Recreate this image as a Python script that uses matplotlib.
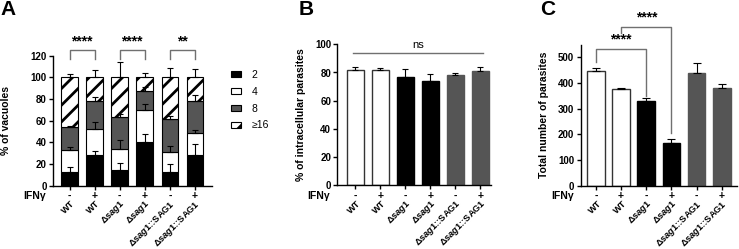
import matplotlib
matplotlib.use("Agg")
import matplotlib.pyplot as plt
import numpy as np

plt.rcParams['font.family'] = ['Liberation Sans', 'DejaVu Sans']
plt.rcParams['font.weight'] = 'bold'
plt.rcParams['axes.labelweight'] = 'bold'
plt.rcParams['mathtext.fontset'] = 'custom'
plt.rcParams['mathtext.it'] = 'Liberation Sans:italic:bold'
plt.rcParams['mathtext.rm'] = 'Liberation Sans:bold'
plt.rcParams['mathtext.bf'] = 'Liberation Sans:bold'
plt.rcParams['hatch.linewidth'] = 2.0

# ---------------- data ----------------
categories = ['WT', 'WT', r'Δ$\mathit{sag1}$', r'Δ$\mathit{sag1}$',
              r'Δ$\mathit{sag1}$::SAG1', r'Δ$\mathit{sag1}$::SAG1']
ifng = ['-', '+', '-', '+', '-', '+']

# Panel A: % of vacuoles by parasite number per vacuole
legend_labels = ['2', '4', '8', '≥16']
pct2 = [13, 28, 14.5, 40.5, 13, 28]
pct4 = [19.5, 24.5, 19.5, 29, 18, 21]
pct8 = [22, 26, 29.5, 18, 30.5, 29]
pct16 = [45.5, 21.5, 36.5, 12.5, 38.5, 22]
err2 = [4.6, 4.3, 6.1, 7.1, 7.4, 10.2]
err4 = [3.1, 5.9, 8.6, 5.9, 5.5, 2.2]
err8 = [1.0, 3.5, 2.5, 3.5, 2.5, 6.0]
err16 = [3.2, 6.9, 13.9, 3.8, 8.7, 7.8]
sig_A = [(0, 1, '****'), (2, 3, '****'), (4, 5, '**')]

# Panel B: % intracellular parasites
intra = [81.6, 82.0, 77.0, 73.8, 78.0, 81.3]
intra_err = [2.1, 1.0, 5.5, 4.9, 1.4, 2.8]

# Panel C: total number of parasites
total = [446, 375, 329, 165, 439, 380]
total_err = [11, 6, 11, 15, 39, 18]

W, H = 739, 249
fig = plt.figure(figsize=(W / 100, H / 100), dpi=100)

def fx(px):
    return px / W

def fy(px):
    return 1 - px / H

GRAY = '#555555'
LINEC = '#707070'

def style_axis(ax):
    for s in ['top', 'right']:
        ax.spines[s].set_visible(False)
    for s in ['left', 'bottom']:
        ax.spines[s].set_linewidth(1.0)
    ax.tick_params(axis='both', width=1.0, length=3, labelsize=7, pad=1.5)
    ax.set_xticks(range(6))
    ax.set_xticklabels([])
    for lab in ax.get_yticklabels():
        lab.set_fontweight('bold')
    # IFN row and category labels
    for i in range(6):
        ax.annotate(ifng[i], xy=(i, 0), xycoords=('data', 'axes fraction'),
                    xytext=(0, -7.5), textcoords='offset points',
                    ha='center', va='center', fontsize=7.5, fontweight='bold')
        ax.annotate(categories[i], xy=(i, 0), xycoords=('data', 'axes fraction'),
                    xytext=(3, -12), textcoords='offset points',
                    ha='right', va='center', rotation=45, rotation_mode='anchor',
                    fontsize=6.7, fontweight='bold')
    ax.annotate('IFNγ', xy=(0, 0), xycoords='axes fraction',
                xytext=(-5, -7.5), textcoords='offset points',
                ha='right', va='center', fontsize=7.5, fontweight='bold')

x = np.arange(6)

# ---------------- Panel A ----------------
axA = fig.add_axes([fx(53), fy(185.7), fx(211.7 - 53), (185.7 - 55.6) / H])
bw = 0.66
b1 = axA.bar(x, pct2, bw, color='black', edgecolor='black', linewidth=0.8, zorder=2)
b2 = axA.bar(x, pct4, bw, bottom=pct2, color='white', edgecolor='black', linewidth=0.8, zorder=2)
bot8 = np.array(pct2) + np.array(pct4)
b3 = axA.bar(x, pct8, bw, bottom=bot8, color=GRAY, edgecolor='black', linewidth=0.8, zorder=2)
bot16 = bot8 + np.array(pct8)
b4 = axA.bar(x, pct16, bw, bottom=bot16, color='white', edgecolor='black', hatch='//',
             linewidth=0.8, zorder=2)
tops = [np.array(pct2), bot8, bot16, bot16 + np.array(pct16)]
for t, e in zip(tops, [err2, err4, err8, err16]):
    axA.errorbar(x, t, yerr=[np.zeros(6), e], fmt='none', ecolor='black',
                 elinewidth=0.8, capsize=2.5, capthick=0.8, zorder=3)
axA.set_xlim(-0.66, 5.67)
axA.set_ylim(0, 120)
axA.set_yticks(range(0, 121, 20))
style_axis(axA)
axA.set_ylabel('% of vacuoles', fontsize=7.5, fontweight='bold')
axA.yaxis.set_label_coords(-(53 - 11) / (211.7 - 53), 0.5)
for a, b, s in sig_A:
    axA.plot([a, a, b, b], [117, 125.2, 125.2, 117], color=LINEC, lw=1.0, clip_on=False)
    axA.text((a + b) / 2, 127, s, ha='center', va='bottom', fontsize=10, fontweight='bold',
             clip_on=False)
fig.legend([b1, b2, b3, b4], legend_labels, loc='upper left',
           bbox_to_anchor=(fx(231), fy(70)), frameon=False,
           handlelength=0.95, handleheight=0.5, labelspacing=0.65, handletextpad=1.0,
           borderpad=0, borderaxespad=0,
           prop={'weight': 'normal', 'size': 7.5})

# ---------------- Panel B ----------------
axB = fig.add_axes([fx(337.3), fy(185.3), fx(490.5 - 337.3), 141 / H])
colsB = ['white', 'white', 'black', 'black', GRAY, GRAY]
edgB = ['#333333', '#333333', 'black', 'black', GRAY, GRAY]
axB.bar(x, intra, 0.67, color=colsB, edgecolor=edgB, linewidth=1.0, zorder=2)
axB.errorbar(x, intra, yerr=[np.zeros(6), intra_err], fmt='none', ecolor='black',
             elinewidth=0.8, capsize=2.5, capthick=0.8, zorder=3)
axB.set_xlim(-0.71, 5.4)
axB.set_ylim(0, 100)
axB.set_yticks(range(0, 101, 20))
style_axis(axB)
axB.set_ylabel('% of intracellular parasites', fontsize=7.5, fontweight='bold')
axB.yaxis.set_label_coords(-(337.3 - 306) / (490.5 - 337.3), 0.5)
axB.plot([-0.1, 5.1], [93.6, 93.6], color=LINEC, lw=1.0, clip_on=False)
axB.text(2.5, 96, 'ns', ha='center', va='bottom', fontsize=8, fontweight='normal')

# ---------------- Panel C ----------------
axC = fig.add_axes([fx(580.5), fy(185.7), fx(737 - 580.5), 141.2 / H])
axC.bar(x, total, 0.7, color=colsB, edgecolor=edgB, linewidth=1.0, zorder=2)
axC.errorbar(x, total, yerr=[np.zeros(6), total_err], fmt='none', ecolor='black',
             elinewidth=0.8, capsize=3, capthick=0.8, zorder=3)
axC.set_xlim(-0.61, 5.6)
axC.set_ylim(0, 550)
axC.set_yticks(range(0, 501, 100))
style_axis(axC)
axC.set_ylabel('Total number of parasites', fontsize=7.5, fontweight='bold')
axC.yaxis.set_label_coords(-(580.5 - 549) / (737 - 580.5), 0.5)
axC.plot([0, 0, 2, 2], [483, 531, 531, 350], color=LINEC, lw=1.0, clip_on=False)
axC.text(1, 541, '****', ha='center', va='bottom', fontsize=10, fontweight='bold', clip_on=False)
axC.plot([1, 1, 3, 3], [593, 619, 619, 204], color=LINEC, lw=1.0, clip_on=False)
axC.text(2, 629, '****', ha='center', va='bottom', fontsize=10, fontweight='bold', clip_on=False)

# panel letters
for lx, l in [(0, 'A'), (299, 'B'), (540, 'C')]:
    fig.text(fx(lx), fy(0), l, ha='left', va='top', fontsize=15, fontweight='bold')

fig.savefig('out.png', dpi=100)
